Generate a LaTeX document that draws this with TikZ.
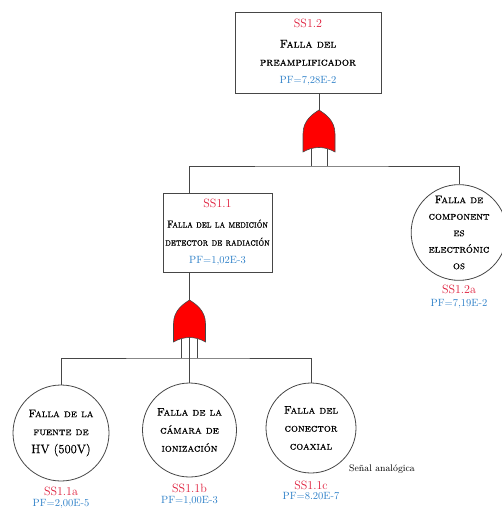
\documentclass[tikz,border=0pt]{standalone}
\usepackage{fontspec}
\setmainfont{Latin Modern Roman}[
	SmallCapsFont={Latin Modern Roman Caps},
	SmallCapsFeatures={FakeBold=0.6}]
\newfontfamily\narrowcaps{Latin Modern Roman Caps}[FakeBold=0.6,FakeStretch=0.86]
\newfontfamily\heavyroman{Latin Modern Roman}[FakeBold=0.5]
\usetikzlibrary{positioning}

\definecolor{idred}{RGB}{222,28,58}
\definecolor{pfblue}{RGB}{46,128,200}
\definecolor{linegray}{RGB}{70,70,70}

\begin{document}
\begin{tikzpicture}[x=1pt,y=-1pt,
	every node/.style={font=\fontsize{11}{18}\selectfont\scshape},
	box/.style={draw=linegray,line width=0.8pt,inner sep=0pt,align=center},
	event/.style={draw=linegray,line width=0.8pt,circle,inner sep=0pt,minimum size=94pt,align=center},
	ident/.style={text=idred,inner sep=1pt,font=\fontsize{12}{14}\selectfont},
	prob/.style={text=pfblue,inner sep=1pt,font=\fontsize{10.5}{12}\selectfont},
	orgate/.style={draw=linegray,fill=red,line width=0.6pt},
	wire/.style={draw=linegray,line width=0.8pt}]
	\useasboundingbox (0,0) rectangle (501,516);

	% top event and first level
	\node[box,minimum width=146pt,minimum height=81pt,font=\fontsize{11.5}{18}\selectfont\scshape] (ss12) at (308,52.5)
		{{\normalfont\fontsize{12}{13}\selectfont\color{idred}SS1.2}\\[2pt] Falla del\\ preamplificador\\ {\normalfont\fontsize{10.5}{12}\selectfont\color{pfblue}PF=7,28E-2}};
	\node[box,minimum width=109pt,minimum height=79pt,font=\fontsize{10.5}{18}\narrowcaps] (ss11) at (217.5,232.5)
		{{\normalfont\fontsize{12}{13}\selectfont\color{idred}SS1.1}\\[2pt] Falla del la medición\\ detector de radiación\\ {\normalfont\fontsize{10.5}{12}\selectfont\color{pfblue}PF=1,02E-3}};
	\node[event,minimum size=95pt,font=\fontsize{11}{16.5}\selectfont\scshape] (ss12a) at (459,232.5)
		{Falla de\\ component\\ es\\ electrónic\\ os};
	\node[ident,below=3pt of ss12a] (ss12a-id) {SS1.2a};
	\node[prob,below=3pt of ss12a-id] (ss12a-pf) {PF=7,19E-2};

	% basic events
	\node[event,minimum size=96pt] (ss11a) at (61,433) {Falla de la\\ fuente de\\ {\heavyroman\fontsize{12.5}{18}\selectfont HV (500V)}};
	\node[event] (ss11b) at (189.5,430) {Falla de la\\ cámara de\\ ionización};
	\node[event,minimum size=90pt] (ss11c) at (311,428) {Falla del\\ conector\\ coaxial};
	\node[ident,below=4pt of ss11a] (ss11a-id) {SS1.1a};
	\node[prob,below=2pt of ss11a-id] (ss11a-pf) {PF=2,00E-5};
	\node[ident,below=5pt of ss11b] (ss11b-id) {SS1.1b};
	\node[prob,below=2pt of ss11b-id] (ss11b-pf) {PF=1,00E-3};
	\node[ident,below=6pt of ss11c] (ss11c-id) {SS1.1c};
	\node[prob,below=1pt of ss11c-id] (ss11c-pf) {PF=8.20E-7};
	\node[anchor=west,inner sep=0pt,font=\fontsize{9.5}{11}\selectfont] (signal) at (349,469) {Señal analógica};

	% OR gates
	\begin{scope}[shift={(319,152)}]
		\draw[orgate] (-16,0) -- (-16,-18) .. controls (-16,-32) and (-6,-38) .. (0,-42)
			.. controls (6,-38) and (16,-32) .. (16,-18) -- (16,0)
			.. controls (6,-6) and (-6,-6) .. (-16,0) -- cycle;
		\coordinate (g1out) at (0,-42);
		\coordinate (g1a) at (-8,-3.4);
		\coordinate (g1b) at (8,-3.4);
	\end{scope}
	\begin{scope}[shift={(189.5,342)}]
		\draw[orgate] (-16,0) -- (-16,-18) .. controls (-16,-32) and (-6,-38) .. (0,-42)
			.. controls (6,-38) and (16,-32) .. (16,-18) -- (16,0)
			.. controls (6,-6) and (-6,-6) .. (-16,0) -- cycle;
		\coordinate (g2out) at (0,-42);
		\coordinate (g2a) at (-8,-3.4);
		\coordinate (g2b) at (0,-4.5);
		\coordinate (g2c) at (8,-3.4);
	\end{scope}
	\coordinate (bus1) at (319,166);
	\coordinate (bus2) at (189.5,358);

	% connections
	\draw[wire] (ss12.south -| g1out) -- (g1out);
	\draw[wire] (g1a) -- (g1a |- bus1);
	\draw[wire] (g1b) -- (g1b |- bus1);
	\draw[wire] (ss11.north -| g2out) |- (bus1) -| (ss12a.north);
	\draw[wire] (ss11.south -| g2out) -- (g2out);
	\draw[wire] (g2a) -- (g2a |- bus2);
	\draw[wire] (g2c) -- (g2c |- bus2);
	\draw[wire] (g2b) -- (ss11b.north);
	\draw[wire] (ss11a.north) |- (bus2) -| (ss11c.north);
\end{tikzpicture}
\end{document}
